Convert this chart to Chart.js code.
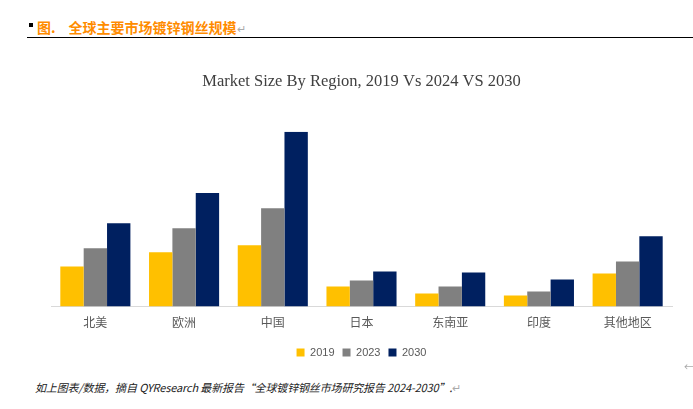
<!DOCTYPE html>
<html><head><meta charset="utf-8">
<script src="https://cdn.jsdelivr.net/npm/chart.js@4/dist/chart.umd.min.js"></script>
<style>
html,body{margin:0;padding:0;background:#fff;width:693px;height:409px;overflow:hidden;position:relative;font-family:"Noto Sans CJK SC",sans-serif;}
#hdr{position:absolute;left:37px;top:17px;font-size:14px;font-weight:bold;color:#FF8C00;white-space:nowrap;line-height:20px;}
#hdr .sp{display:inline-block;width:13px;}
#hdr .ret{color:#aaa;font-weight:normal;font-size:11px;}
#bullet{position:absolute;left:29px;top:23px;width:4px;height:4px;background:#000;}
#rule{position:absolute;left:27px;top:37px;width:666px;height:1px;background:#000;}
#foot{position:absolute;left:35px;top:379px;font-size:11px;font-style:italic;color:#222;white-space:nowrap;line-height:16px;letter-spacing:-0.15px;}
#foot .ret{color:#aaa;font-style:normal;}
#arrow{position:absolute;left:684px;top:359px;font-size:10px;color:#aaa;}
#wrap{position:absolute;left:40px;top:60px;width:645px;height:308px;}
</style></head>
<body>
<div id="bullet"></div>
<div id="hdr">图.<span class="sp"></span>全球主要市场镀锌钢丝规模<span class="ret">↵</span></div>
<div id="rule"></div>
<div id="wrap"><canvas id="c"></canvas></div>
<div id="arrow">←</div>
<div id="foot">如上图表/数据，摘自 QYResearch 最新报告“全球镀锌钢丝市场研究报告 2024-2030”.<span class="ret">↵</span></div>
<script>
const categories = ["北美","欧洲","中国","日本","东南亚","印度","其他地区"];
const seriesNames = ["2019","2023","2030"];
const values2019 = [40, 54, 61, 20, 13, 11, 33];
const values2023 = [58, 78, 98, 26, 20, 15, 45];
const values2030 = [83, 113, 174, 35, 34, 27, 70];
const colors = ["#FFC000","#808080","#002060"];

new Chart(document.getElementById('c'), {
  type: 'bar',
  data: {
    labels: categories,
    datasets: [values2019, values2023, values2030].map((d,i)=>({
      label: seriesNames[i], data: d, backgroundColor: colors[i], borderWidth: 0,
      barPercentage: 1.0, categoryPercentage: 0.79
    }))
  },
  options: {
    responsive: true, maintainAspectRatio: false, animation: false,
    layout: { padding: { left: 11, right: 13, top: 0, bottom: 0 } },
    plugins: {
      title: { display: true, text: 'Market Size By Region, 2019 Vs 2024 VS 2030',
        color: '#404040', font: { family: '"Liberation Serif", serif', size: 16.5, weight: 'normal' },
        padding: { top: 12, bottom: 40 } },
      legend: { position: 'bottom',
        labels: { boxWidth: 8, boxHeight: 8, color: '#595959', padding: 8,
          font: { family: '"Liberation Sans", Arial, sans-serif', size: 11 } } },
      tooltip: { enabled: false }
    },
    scales: {
      x: { grid: { display: false, drawTicks: false }, border: { display: true, color: '#d9d9d9', width: 1 },
        ticks: { color: '#595959', padding: 9, font: { family: '"Noto Sans CJK SC", sans-serif', size: 12 } } },
      y: { display: false, min: 0, max: 174 }
    }
  }
});
</script>
</body></html>
